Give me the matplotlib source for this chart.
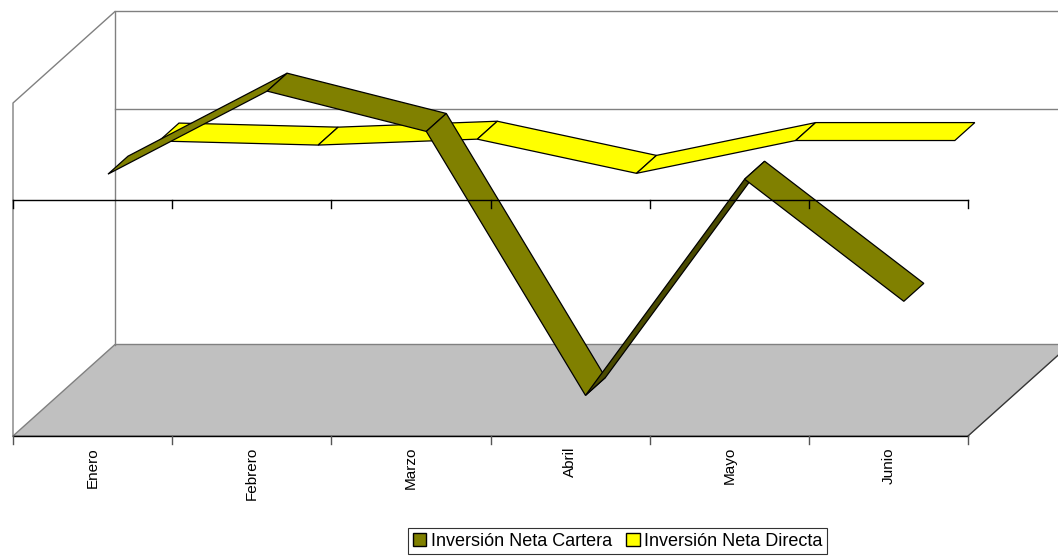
import matplotlib
matplotlib.use('Agg')
import matplotlib.pyplot as plt
from matplotlib.patches import Polygon, Patch

meses = ['Enero', 'Febrero', 'Marzo', 'Abril', 'Mayo', 'Junio']
cartera = [125, 980, 565, -2154, 73, -1185]
directa = [-5, -47, 14, -338, 0, 0]
series = ['Inversión Neta Cartera', 'Inversión Neta Directa']
colores = ['#808000', '#FFFF00']
oscuros = ['#4a4a00', '#999900']

vmin, vmax = -2430, 1000

plt.rcParams['font.family'] = ['Liberation Sans', 'DejaVu Sans']

W, H = 1058, 559
fig = plt.figure(figsize=(W / 100, H / 100), dpi=100)
ax = fig.add_axes([13 / W, (H - 436) / H, 955 / W, 333 / H])
n = len(meses)
ax.set_xlim(0, n)
ax.set_ylim(vmin, vmax)
ax.axis('off')

# oblique depth, converted to data units
px_x = 955 / n
px_y = 333 / (vmax - vmin)
DX, DY = 102 / px_x, 91.5 / px_y


def p(x, y, d):
    return (x + d * DX, y + d * DY)


def linea(pts, **kw):
    ax.plot([q[0] for q in pts], [q[1] for q in pts], clip_on=False, **kw)


# floor
ax.add_patch(Polygon([p(0, vmin, 0), p(n, vmin, 0), p(n, vmin, 1), p(0, vmin, 1)],
                     closed=True, fc='#C0C0C0', ec='#808080', lw=1, clip_on=False, zorder=1))
# walls
gris = dict(color='#808080', lw=1, zorder=1)
linea([p(0, vmin, 1), p(0, vmax, 1), p(n, vmax, 1)], **gris)
linea([p(0, vmin, 0), p(0, vmax, 0), p(0, vmax, 1)], **gris)
linea([p(0, 0, 1), p(n, 0, 1)], **gris)
linea([p(n, vmin, 0), p(n, vmin, 1)], color='#333333', lw=0.8, zorder=1)

# ribbons: back series first
bandas = [(0.151, 0.347), (0.651, 0.847)]
datos = [cartera, directa]
for k in [1, 0]:
    v = datos[k]
    d0, d1 = bandas[k]
    ex, ey = 102 * (d1 - d0), -91.5 * (d1 - d0)
    for i in range(n - 1):
        x0, x1 = i + 0.5, i + 1.5
        dxs = px_x
        dys = -(v[i + 1] - v[i]) * px_y
        cruz = dxs * ey - dys * ex
        fc = oscuros[k] if cruz > 0 else colores[k]
        ax.add_patch(Polygon([p(x0, v[i], d0), p(x1, v[i + 1], d0),
                              p(x1, v[i + 1], d1), p(x0, v[i], d1)],
                             closed=True, fc=fc, ec='black', lw=0.9,
                             joinstyle='miter', clip_on=False, zorder=3 + (1 - k)))

# front axis lines with ticks
tick = 8 / px_y
for y0, z in [(vmin, 2), (0, 10)]:
    linea([(0, y0), (n, y0)], color='black', lw=1, zorder=z)
    for i in range(n + 1):
        c = 'black' if y0 == 0 else '#555555'
        linea([(i, y0), (i, y0 - tick)], color=c, lw=1, zorder=z)

for i, m in enumerate(meses):
    ax.text(i + 0.5, vmin - 11 / px_y, m, rotation=90, ha='center', va='top',
            fontsize=11, clip_on=False)

handles = [Patch(fc=colores[k], ec='black', lw=1, label=series[k]) for k in range(2)]
leg = fig.legend(handles=handles, loc='upper left', bbox_to_anchor=(408 / W, 1 - 528 / H),
                 ncol=2, frameon=True, fancybox=False, edgecolor='black',
                 handlelength=0.75, handleheight=0.75, handletextpad=0.25,
                 columnspacing=0.8, borderaxespad=0, borderpad=0.25, fontsize=13)
leg.get_frame().set_linewidth(0.8)

fig.savefig('out.png', dpi=100)
